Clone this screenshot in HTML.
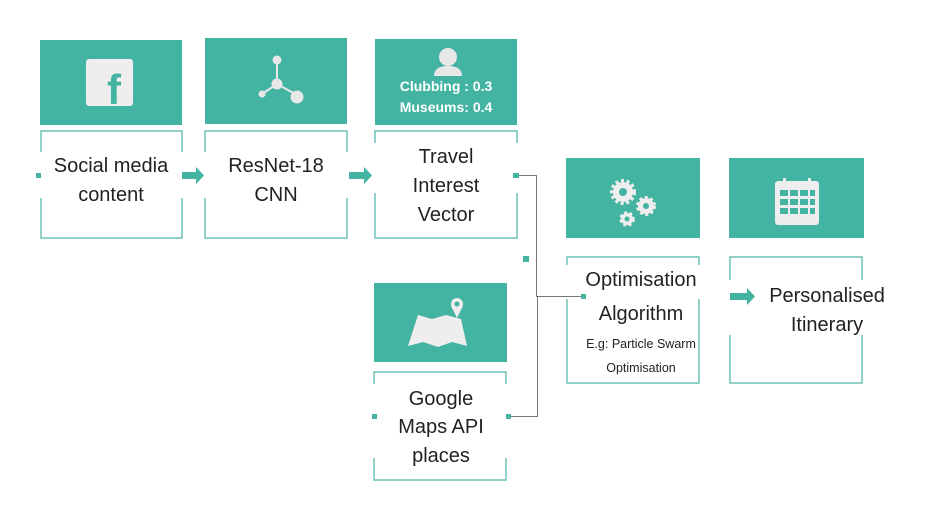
<!DOCTYPE html>
<html><head><style>body{margin:0;background:#fff}svg{display:block}text{font-family:"Liberation Sans",sans-serif;fill:#222;text-anchor:middle}</style></head><body>
<svg width="936" height="514" viewBox="0 0 936 514">
<g fill="#43b3a2">
<rect x="40" y="40" width="142" height="85"/>
<rect x="205" y="38" width="142" height="86"/>
<rect x="375" y="39" width="142" height="86"/>
<rect x="566" y="158" width="134" height="80"/>
<rect x="729" y="158" width="135" height="80"/>
<rect x="374" y="283" width="133" height="79"/>
</g>
<g fill="none" stroke="#6cc4b5" stroke-width="1.5">
<rect x="41" y="131" width="141" height="107"/>
<rect x="205" y="131" width="142" height="107"/>
<rect x="375" y="131" width="142" height="107"/>
<rect x="567" y="257" width="132" height="126"/>
<rect x="730" y="257" width="132" height="126"/>
<rect x="374" y="372" width="132" height="108"/>
</g>
<g fill="#fff">
<rect x="38" y="152" width="148" height="46"/>
<rect x="202" y="152" width="148" height="46"/>
<rect x="372" y="143" width="148" height="50"/>
<rect x="564" y="265" width="138" height="34"/>
<rect x="727" y="280" width="138" height="55"/>
<rect x="371" y="384" width="138" height="74"/>
</g>
<g stroke="#777" stroke-width="1" fill="none">
<polyline points="519,175.5 536.5,175.5 536.5,296.5 583,296.5"/>
<polyline points="511,416.5 537.5,416.5 537.5,296"/>
</g>
<g fill="#43b3a2">
<rect x="36" y="173" width="5" height="5"/>
<rect x="513" y="173" width="6" height="5"/>
<rect x="523" y="256" width="6" height="6"/>
<rect x="581" y="294" width="5" height="5"/>
<rect x="372" y="414" width="5" height="5"/>
<rect x="506" y="414" width="5" height="5"/>
<path d="M182 172h14v-5l8 8.5-8 8.5v-5h-14z"/>
<path d="M349 172h15v-5l8 8.5-8 8.5v-5h-15z"/>
<path d="M730 293h17v-5l8 8.5-8 8.5v-5h-17z"/>
</g>
<g fill="#eee">
<rect x="86" y="59" width="47" height="47" rx="3"/>
</g>
<text x="114" y="104" style="font-size:42px;font-weight:bold;fill:#43b3a2">f</text>
<g fill="#e8e8e8" stroke="#e8e8e8">
<line x1="277" y1="63" x2="277" y2="84" stroke-width="2"/>
<line x1="277" y1="84" x2="262" y2="94" stroke-width="2"/>
<line x1="277" y1="84" x2="297" y2="95" stroke-width="2"/>
<circle cx="277" cy="60" r="4"/><circle cx="277" cy="84" r="5"/><circle cx="262" cy="94" r="3"/><circle cx="297" cy="97" r="6"/>
</g>
<g fill="#e8e8e8">
<circle cx="448" cy="57" r="9"/>
<path d="M434 76q0-10 14-10q14 0 14 10z"/>
</g>
<text x="446" y="91" style="font-size:14px;font-weight:bold;fill:#fff">Clubbing  : 0.3</text>
<text x="446" y="112" style="font-size:14px;font-weight:bold;fill:#fff">Museums: 0.4</text>
<g fill="none" stroke="#eee" stroke-dasharray="3 2.5">
<circle cx="623" cy="192" r="11" stroke-width="4"/><circle cx="646" cy="206" r="8.5" stroke-width="3"/><circle cx="627" cy="219" r="6.5" stroke-width="2.5"/>
</g>
<g fill="#eee">
<circle cx="623" cy="192" r="10"/><circle cx="646" cy="206" r="8"/><circle cx="627" cy="219" r="6"/>
</g>
<g fill="#43b3a2"><circle cx="623" cy="192" r="4"/><circle cx="646" cy="206" r="3"/><circle cx="627" cy="219" r="2.5"/></g>
<g fill="#eee">
<rect x="775" y="181" width="44" height="44" rx="3"/>
<rect x="783" y="178" width="3" height="8"/><rect x="808" y="178" width="3" height="8"/>
</g>
<g fill="#43b3a2">
<rect x="780" y="190" width="8" height="6"/><rect x="790" y="190" width="8" height="6"/><rect x="800" y="190" width="8" height="6"/><rect x="810" y="190" width="5" height="6"/>
<rect x="780" y="199" width="8" height="6"/><rect x="790" y="199" width="8" height="6"/><rect x="800" y="199" width="8" height="6"/><rect x="810" y="199" width="5" height="6"/>
<rect x="780" y="208" width="8" height="6"/><rect x="790" y="208" width="8" height="6"/><rect x="800" y="208" width="8" height="6"/><rect x="810" y="208" width="5" height="6"/>
</g>
<g fill="#eee">
<path d="M418 315l14 4 14-4 15 4 6 27-15-4-14 5-15-5-15 4z"/>
<circle cx="457" cy="304" r="6"/><path d="M451 306l6 12 6-12z"/>
</g>
<circle cx="457" cy="304" r="2.5" fill="#43b3a2"/>
<g style="font-size:20px">
<text x="111" y="172">Social media</text>
<text x="111" y="201">content</text>
<text x="276" y="172">ResNet-18</text>
<text x="276" y="201">CNN</text>
<text x="446" y="163">Travel</text>
<text x="446" y="192">Interest</text>
<text x="446" y="221">Vector</text>
<text x="641" y="286">Optimisation</text>
<text x="641" y="320">Algorithm</text>
<text x="827" y="302">Personalised</text>
<text x="827" y="331">Itinerary</text>
<text x="441" y="405">Google</text>
<text x="441" y="433">Maps API</text>
<text x="441" y="462">places</text>
</g>
<text x="641" y="348" style="font-size:12.5px">E.g: Particle Swarm</text>
<text x="641" y="372" style="font-size:12.5px">Optimisation</text>
</svg>
</body></html>
